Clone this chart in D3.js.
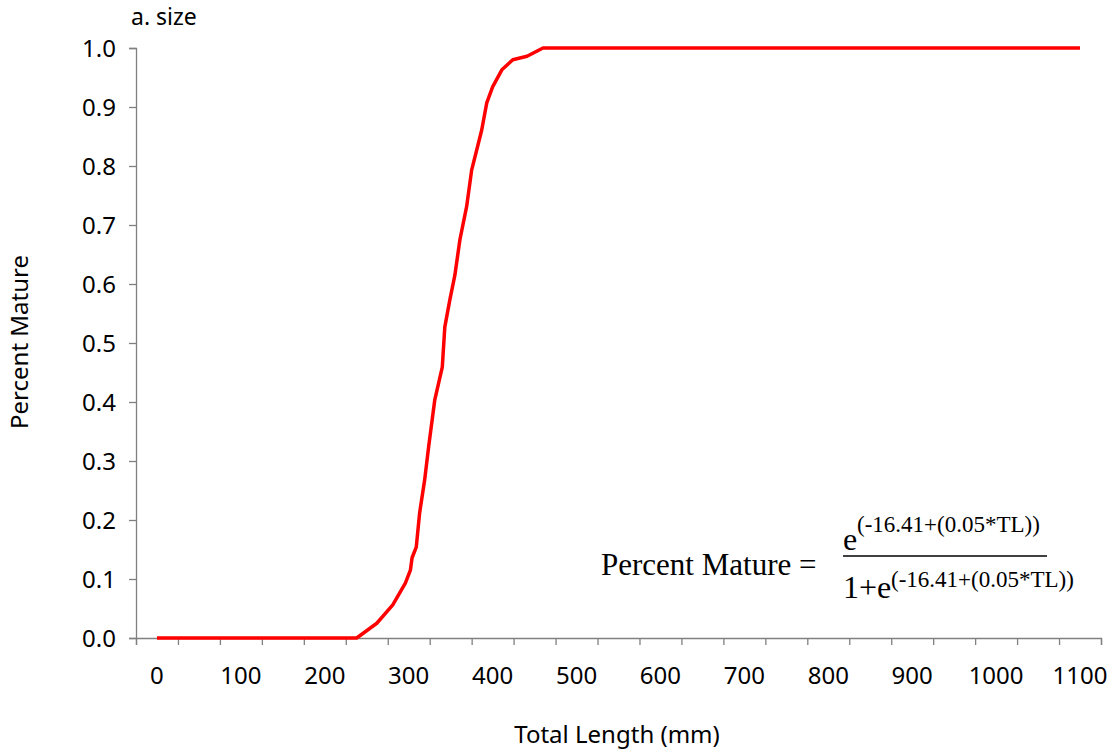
<!DOCTYPE html>
<html><head><meta charset="utf-8">
<script src="https://cdn.jsdelivr.net/npm/d3@7"></script>
<style>body{margin:0;background:#fff}svg{display:block}</style>
</head><body>
<svg id="c" width="1112" height="752"></svg>
<script>
// Data: total length (mm) vs proportion mature
const lengthMM = [0, 238, 262, 281, 296, 302, 304, 309, 313, 319, 324, 331, 340, 343, 349, 355, 361, 369, 375, 387, 393, 400, 411, 424, 441, 460, 1100];
const mature   = [0, 0, 0.025, 0.056, 0.093, 0.115, 0.136, 0.154, 0.212, 0.268, 0.327, 0.403, 0.459, 0.527, 0.573, 0.615, 0.675, 0.731, 0.793, 0.861, 0.907, 0.934, 0.963, 0.980, 0.986, 1.0, 1.0];
const xTickLabels = [0, 100, 200, 300, 400, 500, 600, 700, 800, 900, 1000, 1100];
const xTickMarks = d3.range(-25, 1126, 50);
const yTicks = [0, 0.1, 0.2, 0.3, 0.4, 0.5, 0.6, 0.7, 0.8, 0.9, 1.0];

const svg = d3.select("#c");
const x = d3.scaleLinear().domain([-25, 1125]).range([136, 1101]);
const y = d3.scaleLinear().domain([0, 1]).range([638, 48]);
const axisColor = "#808080";
const sans = "'Noto Sans', 'DejaVu Sans', sans-serif";

// X axis: tick marks at category boundaries, labels centered
const gx = svg.append("g").attr("transform", "translate(0,638)");
gx.call(d3.axisBottom(x).tickValues(xTickMarks).tickSize(7).tickFormat(""));
gx.select(".domain").attr("stroke", axisColor).attr("stroke-width", 1.3);
gx.selectAll(".tick line").attr("stroke", axisColor).attr("stroke-width", 1.3);
gx.selectAll(".xl").data(xTickLabels).join("text")
  .attr("class", "xl")
  .attr("x", d => x(d)).attr("y", 40)
  .attr("text-anchor", "middle").attr("dominant-baseline", "middle")
  .attr("font-family", sans).attr("font-size", 24).attr("fill", "#000")
  .text(d => d);

// Y axis
const gy = svg.append("g").attr("transform", "translate(136,0)");
gy.call(d3.axisLeft(y).tickValues(yTicks).tickSize(7).tickFormat(d3.format(".1f")).tickPadding(13));
gy.select(".domain").attr("stroke", axisColor).attr("stroke-width", 1.3);
gy.selectAll(".tick line").attr("stroke", axisColor).attr("stroke-width", 1.3);
gy.selectAll(".tick text").attr("font-family", sans).attr("font-size", 24).attr("fill", "#000").attr("dy", "0.35em");

// Curve
const pts = lengthMM.map((d, i) => [d, mature[i]]);
svg.append("path").datum(pts)
  .attr("fill", "none").attr("stroke", "#ff0000").attr("stroke-width", 3.5)
  .attr("stroke-linejoin", "round")
  .attr("d", d3.line().x(d => x(d[0])).y(d => y(d[1])));

// Titles
svg.append("text").attr("x", 131).attr("y", 25)
  .attr("font-family", sans).attr("font-size", 23).text("a. size");
svg.append("text").attr("x", 617).attr("y", 743).attr("text-anchor", "middle")
  .attr("font-family", sans).attr("font-size", 24).text("Total Length (mm)");
svg.append("text").attr("transform", "translate(28,342) rotate(-90)").attr("text-anchor", "middle")
  .attr("font-family", sans).attr("font-size", 24).text("Percent Mature");

// Formula
const serif = "'Liberation Serif', 'Times New Roman', serif";
svg.append("text").attr("x", 601).attr("y", 575)
  .attr("font-family", serif).attr("font-size", 31).text("Percent Mature =");
svg.append("text").attr("x", 843).attr("y", 550)
  .attr("font-family", serif).attr("font-size", 32).text("e");
svg.append("text").attr("x", 857).attr("y", 532)
  .attr("font-family", serif).attr("font-size", 23).text("(-16.41+(0.05*TL))");
svg.append("line").attr("x1", 843).attr("x2", 1047).attr("y1", 556).attr("y2", 556)
  .attr("stroke", "#000").attr("stroke-width", 1.5);
svg.append("text").attr("x", 843).attr("y", 598)
  .attr("font-family", serif).attr("font-size", 32).text("1+e");
svg.append("text").attr("x", 891).attr("y", 587)
  .attr("font-family", serif).attr("font-size", 23).text("(-16.41+(0.05*TL))");
</script>
</body></html>
